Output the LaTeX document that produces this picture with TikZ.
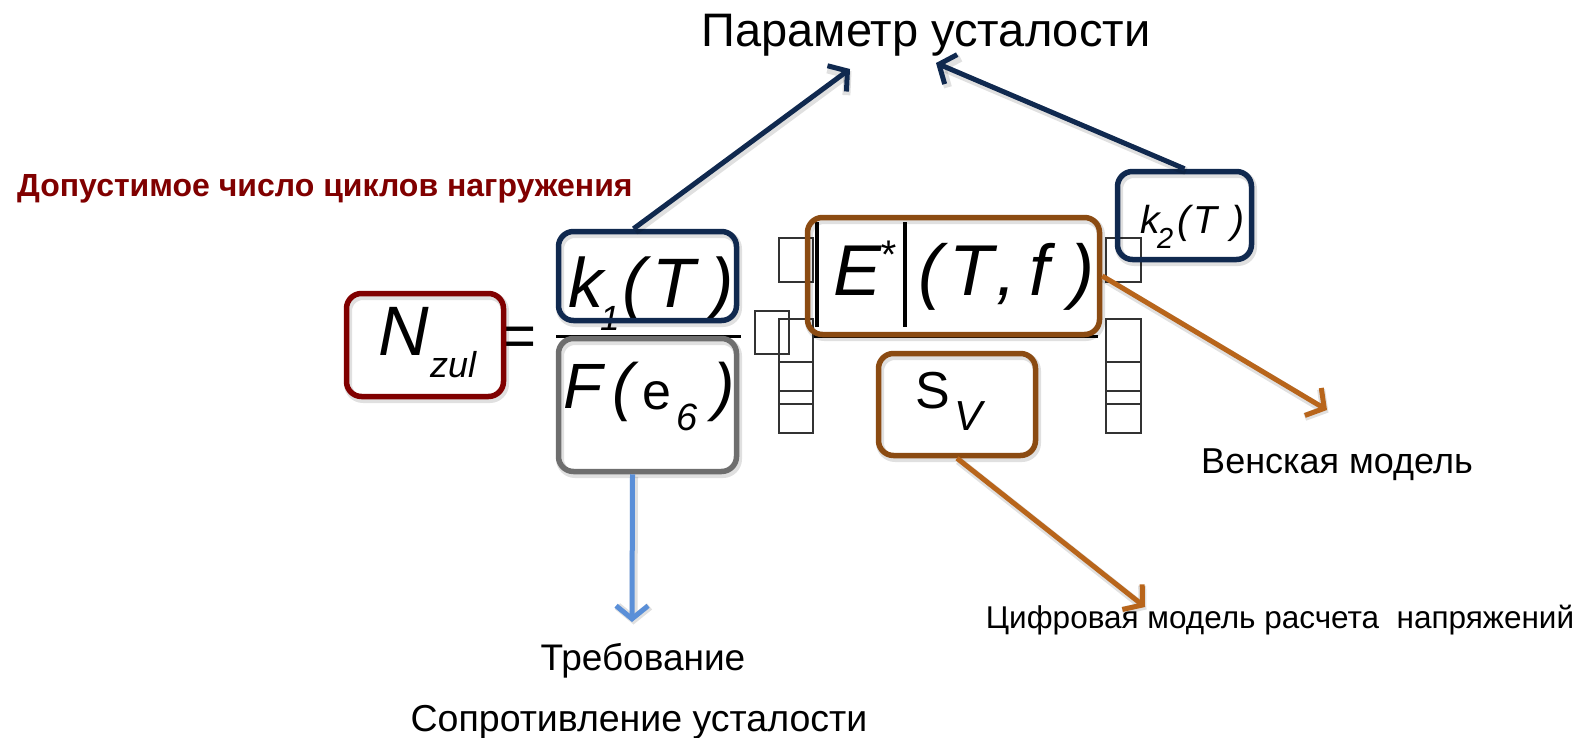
\documentclass[tikz,border=0pt]{standalone}
\usepackage{fontspec}
\setmainfont{Liberation Sans}
\usetikzlibrary{arrows.meta}
\definecolor{navy}{HTML}{10294F}
\definecolor{wine}{HTML}{800000}
\definecolor{boxgray}{HTML}{6E6E6E}
\definecolor{boxbrown}{HTML}{8B4B12}
\definecolor{arrorange}{HTML}{B8651B}
\definecolor{arrblue}{HTML}{5A8FD8}
\newcommand\fsz[1]{\fontsize{#1bp}{#1bp}\selectfont}
\begin{document}
\begin{tikzpicture}[x=1bp,y=-1bp,
  lbl/.style={inner sep=0pt, anchor=base},
  glyph/.style={inner sep=0pt, anchor=base west},
  soft/.style={preaction={draw=black, draw opacity=0.12, line width=8bp,
      transform canvas={xshift=1.5bp,yshift=-2.5bp}}},
  box/.style={draw, soft, rounded corners=15bp, line width=5.5bp, inner sep=0pt},
  conn/.style={line width=5bp, soft, -{Straight Barb[length=13bp,width=32bp]}},
  missing/.style={draw=black!80, line width=1.1bp},
  bar/.style={line width=4bp},
]
\useasboundingbox (0,0) rectangle (1586,738);

% ---- labels ----
\node[lbl, font=\fsz{47}] (title) at (926,47) {Параметр усталости};
\node[glyph, font=\fsz{32}\bfseries, text=wine] (allowed) at (17,196) {Допустимое число циклов нагружения};
\node[lbl, font=\fsz{37}] (req) at (643,670) {Требование};
\node[lbl, font=\fsz{37.5}] (res) at (639,731) {Сопротивление усталости};
\node[lbl, font=\fsz{36}] (vienna) at (1337,473) {Венская модель};
\node[lbl, font=\fsz{31.5}] (digital) at (1280,628) {Цифровая модель расчета\ \ напряжений};

% ---- formula: N_zul = k1(T)/F(e6) ... ----
\node[glyph, font=\fsz{70}\itshape] (Nn) at (378,355) {N};
\node[glyph, font=\fsz{36}\itshape] (Nsub) at (430,377) {zul};
\node[lbl, font=\fsz{60}] (eq) at (519,356) {=};

\node[glyph, font=\fsz{70}\itshape] (k1k) at (568,307) {k};
\node[glyph, font=\fsz{35}\itshape] (k1s) at (600,330) {1};
\node[glyph, font=\fsz{70}\itshape] (k1o) at (622,307) {(};
\node[glyph, font=\fsz{70}\itshape] (k1T) at (652,307) {T};
\node[glyph, font=\fsz{70}\itshape] (k1c) at (710,307) {)};

\draw[line width=3bp] (556,336) -- (741,336);

\node[glyph, font=\fsz{64}\itshape] (Ff) at (563,408) {F};
\node[glyph, font=\fsz{64}\itshape] (Fo) at (612,408) {(};
\node[glyph, font=\fsz{52}] (Fe) at (642,409) {e};
\node[glyph, font=\fsz{38}\itshape] (F6) at (676,430) {6};
\node[glyph, font=\fsz{64}\itshape] (Fc) at (713,408) {)};

% |E*|(T,f)
\draw[bar] (817,222) -- (817,327);
\node[glyph, font=\fsz{72}\itshape] (EE) at (833,295) {E};
\node[glyph, font=\fsz{40}\itshape] (Es) at (879,268) {*};
\draw[bar] (905,222) -- (905,327);
\node[glyph, font=\fsz{72}\itshape] (Eo) at (918,295) {(};
\node[glyph, font=\fsz{72}\itshape] (ET) at (949,295) {T};
\node[glyph, font=\fsz{72}\itshape] (Ecm) at (996,295) {,};
\node[glyph, font=\fsz{72}\itshape] (Ef) at (1029,295) {f};
\node[glyph, font=\fsz{72}\itshape] (Ec) at (1070,295) {)};
\draw[line width=3bp] (813,336) -- (1098,336);

% sigma_V
\node[glyph, font=\fsz{52}] (SvS) at (915,408) {S};
\node[glyph, font=\fsz{42}\itshape] (SvV) at (954,430) {V};

% k2(T)
\node[glyph, font=\fsz{39}\itshape] (k2k) at (1140,233) {k};
\node[glyph, font=\fsz{29}\itshape] (k2s) at (1157,248) {2};
\node[glyph, font=\fsz{39}\itshape] (k2o) at (1177,233) {(};
\node[glyph, font=\fsz{39}\itshape] (k2T) at (1193,233) {T};
\node[glyph, font=\fsz{39}\itshape] (k2c) at (1231,233) {)};

% bracket pieces shown as empty glyph boxes
\draw[missing] (779,238) rectangle (813,282);
\draw[missing] (755,311) rectangle (789,354);
\draw[missing] (779,319) rectangle (813,433);
\foreach \yy in {362,391,404} \draw[missing] (779,\yy) -- (813,\yy);
\draw[missing] (1106,238) rectangle (1141,282);
\draw[missing] (1106,319) rectangle (1141,433);
\foreach \yy in {362,391,404} \draw[missing] (1106,\yy) -- (1141,\yy);

% ---- highlight boxes ----
\node[box, draw=wine, minimum width=157bp, minimum height=103bp] (Nbox) at (425,345) {};
\node[box, draw=navy, minimum width=178bp, minimum height=89bp] (k1box) at (647.5,276) {};
\node[box, draw=boxgray, minimum width=178bp, minimum height=133bp] (Fbox) at (647.5,405) {};
\node[box, draw=boxbrown, minimum width=292bp, minimum height=117bp] (Ebox) at (953.5,276) {};
\node[box, draw=boxbrown, minimum width=157bp, minimum height=102bp] (Svbox) at (957,404.5) {};
\node[box, draw=navy, minimum width=134bp, minimum height=88bp] (k2box) at (1184.5,215.5) {};

% ---- connectors ----
\coordinate (tipA) at (850,69);
\coordinate (tipB) at (936,63);
\coordinate (tipC) at (1327,410);
\coordinate (tipD) at (1145,607);
\coordinate (tipE) at (632,622);
\draw[conn, navy] ([xshift=-14bp]k1box.north) -- (tipA);
\draw[conn, navy] (k2box.north) -- (tipB);
\draw[conn, arrorange] (Ebox.east) -- (tipC);
\draw[conn, arrorange] (Svbox.south) -- (tipD);
\draw[conn, arrblue] ([xshift=-15bp]Fbox.south) -- (tipE);
\end{tikzpicture}
\end{document}
